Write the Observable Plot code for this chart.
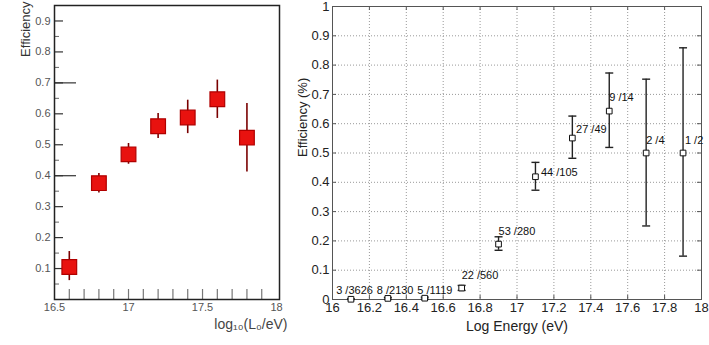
<!DOCTYPE html>
<html><head><meta charset="utf-8">
<script src="https://cdn.jsdelivr.net/npm/d3@7"></script>
<script src="https://cdn.jsdelivr.net/npm/@observablehq/plot@0.6"></script>
<style>
body{margin:0;background:#fff;}
#wrap{position:relative;width:709px;height:345px;overflow:hidden;background:#fff;font-family:"Liberation Sans",Arial,sans-serif;}
#wrap svg{position:absolute;top:0;overflow:visible;}
</style></head><body><div id="wrap"></div>
<script>
// ---------- Left panel data ----------
const leftEnergy = [16.6, 16.8, 17.0, 17.2, 17.4, 17.6, 17.8];
const leftEff    = [0.105, 0.376, 0.469, 0.560, 0.588, 0.647, 0.523];
const leftLo     = [0.061, 0.344, 0.437, 0.520, 0.536, 0.585, 0.412];
const leftHi     = [0.155, 0.407, 0.504, 0.601, 0.644, 0.709, 0.633];
const leftXTicks = [16.5, 17, 17.5, 18];
const leftXMinor = [16.6, 16.7, 16.8, 16.9, 17.0, 17.1, 17.2, 17.3, 17.4, 17.5, 17.6, 17.7, 17.8, 17.9];
const leftYTicks = [0.1, 0.2, 0.3, 0.4, 0.5, 0.6, 0.7, 0.8, 0.9];
const leftYMinor = [0.05, 0.15, 0.25, 0.35, 0.45, 0.55, 0.65, 0.75, 0.85];
const leftYLong  = [0.4, 0.7];
const leftXTitle = "log₁₀(L₀/eV)";
const leftYTitle = "Efficiency";

// ---------- Right panel data ----------
const rightEnergy = [16.1, 16.3, 16.5, 16.7, 16.9, 17.1, 17.3, 17.5, 17.7, 17.9];
const rightEff    = [0.0008, 0.0038, 0.0045, 0.039, 0.189, 0.419, 0.551, 0.643, 0.5, 0.5];
const rightLo     = [0.0, 0.001, 0.001, 0.031, 0.168, 0.373, 0.482, 0.519, 0.251, 0.148];
const rightHi     = [0.002, 0.007, 0.008, 0.048, 0.214, 0.468, 0.626, 0.773, 0.752, 0.859];
const rightLabels = ["3 /3626", "8 /2130", "5 /1119", "22 /560", "53 /280", "44 /105", "27 /49", "9 /14", "2 /4", "1 /2"];
const labelX      = [16.02, 16.24, 16.46, 16.70, 16.90, 17.13, 17.32, 17.50, 17.70, 17.91];
const labelY      = [0.032, 0.032, 0.032, 0.083, 0.233, 0.432, 0.581, 0.688, 0.544, 0.544];
const rightXTicks = [16, 16.2, 16.4, 16.6, 16.8, 17, 17.2, 17.4, 17.6, 17.8, 18];
const rightYTicks = [0, 0.1, 0.2, 0.3, 0.4, 0.5, 0.6, 0.7, 0.8, 0.9, 1];
const rightXTitle = "Log Energy (eV)";
const rightYTitle = "Efficiency (%)";

const font = "Liberation Sans, Arial, Helvetica, sans-serif";
const wrap = document.getElementById("wrap");

// ---------- Left plot ----------
const L = {w: 290, h: 345, ml: 54, mr: 11, mt: 5, mb: 46};
const Lpw = L.w - L.ml - L.mr, Lph = L.h - L.mt - L.mb;
const li = leftEnergy.map((_, i) => i);
const left = Plot.plot({
  width: L.w, height: L.h,
  marginLeft: L.ml, marginRight: L.mr, marginTop: L.mt, marginBottom: L.mb,
  style: {fontFamily: font, background: "transparent", overflow: "visible"},
  x: {domain: [16.5, 18.02], label: null},
  y: {domain: [0, 0.95], label: null},
  marks: [
    Plot.tickY(leftYMinor, {y: d => d, insetRight: Lpw - 5, stroke: "#666", strokeWidth: 1}),
    Plot.tickY(leftYTicks, {y: d => d, insetRight: Lpw - 9, stroke: "#333", strokeWidth: 1.2}),
    Plot.tickY(leftYLong, {y: d => d, insetRight: Lpw - 22, stroke: "#333", strokeWidth: 1.2}),
    Plot.tickX(leftXMinor, {x: d => d, insetTop: Lph - 10, stroke: "#777", strokeWidth: 1.2}),
    Plot.frame({stroke: "#222", strokeWidth: 1.5}),
    Plot.axisY({ticks: leftYTicks, tickSize: 0, tickPadding: 4, fontSize: 11, fill: "#555", label: null, tickFormat: d => d.toFixed(1)}),
    Plot.axisX({ticks: leftXTicks, tickSize: 0, tickPadding: 4, fontSize: 11, fill: "#555", label: null, tickFormat: d => String(d)}),
    Plot.ruleX(li, {x: i => leftEnergy[i], y1: i => leftLo[i], y2: i => leftHi[i], stroke: "#7a0000", strokeWidth: 1.6}),
    Plot.dot(li, {x: i => leftEnergy[i], y: i => leftEff[i], symbol: "square", r: 8.3, fill: "#e8120f", stroke: "#b00000", strokeWidth: 1.2}),
    Plot.text([leftXTitle], {frameAnchor: "bottom-right", dx: 8, dy: 29, textAnchor: "end", fontSize: 14, fill: "#444"}),
    Plot.text([leftYTitle], {frameAnchor: "top-left", rotate: -90, textAnchor: "end", dx: -34, dy: -4, fontSize: 13, fill: "#333"})
  ]
});
left.style.left = "0px";
wrap.appendChild(left);

// ---------- Right plot ----------
const R = {w: 429, h: 345, ml: 52, mr: 8, mt: 6, mb: 46};
const Rpw = R.w - R.ml - R.mr, Rph = R.h - R.mt - R.mb;
const ri = rightEnergy.map((_, i) => i);
const cap = {draw(ctx, size) { const r = Math.sqrt(size / Math.PI); ctx.moveTo(-r, 0); ctx.lineTo(r, 0); }};
const right = Plot.plot({
  width: R.w, height: R.h,
  marginLeft: R.ml, marginRight: R.mr, marginTop: R.mt, marginBottom: R.mb,
  style: {fontFamily: font, background: "transparent", overflow: "visible"},
  x: {domain: [16, 18], label: null},
  y: {domain: [0, 1], label: null},
  marks: [
    Plot.gridX(rightXTicks.slice(1, -1), {stroke: "#999", strokeOpacity: 1, strokeDasharray: "1,2"}),
    Plot.gridY(rightYTicks.slice(1, -1), {stroke: "#999", strokeOpacity: 1, strokeDasharray: "1,2"}),
    Plot.tickY(rightYTicks, {y: d => d, insetRight: Rpw - 4, stroke: "#555"}),
    Plot.tickY(rightYTicks, {y: d => d, insetLeft: Rpw - 4, stroke: "#555"}),
    Plot.tickX(rightXTicks, {x: d => d, insetTop: Rph - 4, stroke: "#555"}),
    Plot.tickX(rightXTicks, {x: d => d, insetBottom: Rph - 4, stroke: "#555"}),
    Plot.frame({stroke: "#555", strokeWidth: 1}),
    Plot.axisY({ticks: rightYTicks, tickSize: 0, tickPadding: 3, fontSize: 13, fill: "#222", label: null, tickFormat: d => String(d)}),
    Plot.axisX({ticks: rightXTicks, tickSize: 0, tickPadding: 3, fontSize: 13, fill: "#222", label: null, tickFormat: d => String(d)}),
    Plot.ruleX(ri, {x: i => rightEnergy[i], y1: i => rightLo[i], y2: i => rightHi[i], stroke: "#222", strokeWidth: 1.4}),
    Plot.dot(ri, {x: i => rightEnergy[i], y: i => rightLo[i], symbol: cap, r: 4, stroke: "#222", strokeWidth: 1.4}),
    Plot.dot(ri, {x: i => rightEnergy[i], y: i => rightHi[i], symbol: cap, r: 4, stroke: "#222", strokeWidth: 1.4}),
    Plot.dot(ri, {x: i => rightEnergy[i], y: i => rightEff[i], symbol: "square", r: 3.2, fill: "white", stroke: "#111", strokeWidth: 1}),
    Plot.text(ri, {x: i => labelX[i], y: i => labelY[i], text: i => rightLabels[i], textAnchor: "start", fontSize: 11, fill: "#111"}),
    Plot.text([rightXTitle], {frameAnchor: "bottom", dy: 31, fontSize: 14, fill: "#222"}),
    Plot.text([rightYTitle], {frameAnchor: "left", rotate: -90, dx: -30, dy: 4, fontSize: 13, fill: "#222"})
  ]
});
right.style.left = "280px";
wrap.appendChild(right);
</script></body></html>
